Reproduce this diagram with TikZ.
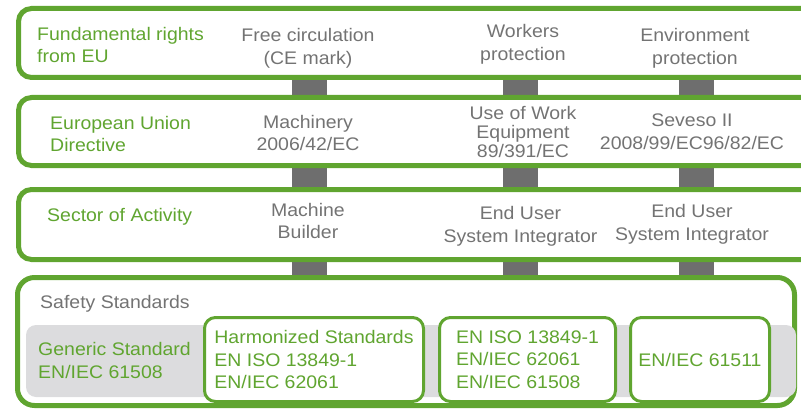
\documentclass[tikz,border=0pt]{standalone}
\usepackage{fontspec}
\setmainfont{Liberation Sans}[FakeStretch=1.07]
\usetikzlibrary{backgrounds}
\definecolor{eugreen}{RGB}{96,165,48}
\definecolor{txtgray}{RGB}{115,115,115}
\definecolor{conngray}{RGB}{110,110,110}
\definecolor{bargray}{RGB}{220,220,222}
\begin{document}
\begin{tikzpicture}[x=1pt,y=-1pt,
  rowbox/.style={draw=eugreen, line width=5pt, rounded corners=13pt, anchor=north west, inner sep=0pt, outer sep=0pt},
  inbox/.style={draw=eugreen, line width=3pt, fill=white, rounded corners=11pt, inner sep=0pt, outer sep=0pt, align=left, minimum height=84pt, text=eugreen, font=\fontsize{18.2}{22.6}\selectfont},
  lbl/.style={text=eugreen, font=\fontsize{18.2}{22.6}\selectfont, inner sep=0pt, align=left},
  val/.style={text=txtgray, font=\fontsize{18.2}{22.6}\selectfont, inner sep=0pt, align=center},
  conn/.style={draw=conngray, line width=35pt},
  barstyle/.style={fill=bargray, rounded corners=10pt, anchor=north west, inner sep=0pt, outer sep=0pt}
]
\useasboundingbox (0,0) rectangle (801,412);
\clip (0,0) rectangle (801,412);

% rows
\node[rowbox, minimum width=811.5pt, minimum height=69pt] (r1) at (18.5,8.5) {};
\node[rowbox, minimum width=811.5pt, minimum height=68pt] (r2) at (18.5,97.5) {};
\node[rowbox, minimum width=811.5pt, minimum height=70pt] (r3) at (18.5,189.5) {};
\node[rowbox, rounded corners=17pt, minimum width=777pt, minimum height=128pt] (r4) at (17.5,277.5) {};

% connector columns
\coordinate (k1) at (309.5,0);
\coordinate (k2) at (520.5,0);
\coordinate (k3) at (696,0);
\begin{scope}[on background layer]
  \draw[conn] (r1.south -| k1) -- (r2.north -| k1);
  \draw[conn] (r1.south -| k2) -- (r2.north -| k2);
  \draw[conn] (r1.south -| k3) -- (r2.north -| k3);
  \draw[conn] (r2.south -| k1) -- (r3.north -| k1);
  \draw[conn] (r2.south -| k2) -- (r3.north -| k2);
  \draw[conn] (r2.south -| k3) -- (r3.north -| k3);
  \draw[conn] (r3.south -| k1) -- (r4.north -| k1);
  \draw[conn] (r3.south -| k2) -- (r4.north -| k2);
  \draw[conn] (r3.south -| k3) -- (r4.north -| k3);
\end{scope}

% row 1
\node[lbl, anchor=west] (t11) at (37,45) {Fundamental rights\\from EU};
\node[val] (t12) at (308,48.5) {Free circulation\\(CE mark)};
\node[val] (t13) at (523,44) {Workers\\protection};
\node[val] (t14) at (695,48.4) {Environment\\protection};

% row 2
\node[lbl, anchor=west] (t21) at (50,134) {European Union\\Directive};
\node[val] (t22) at (308,133) {Machinery\\2006/42/EC};
\node[val, font=\fontsize{18.2}{19}\selectfont] (t23) at (523,132) {Use of Work\\Equipment\\89/391/EC};
\node[val] (t24) at (692,132) {Seveso II\\2008/99/EC96/82/EC};

% row 3
\node[lbl, anchor=base west] (t31) at (47,221.7) {Sector of Activity};
\node[val] (t32) at (308,221) {Machine\\Builder};
\node[val] (t33) at (520.5,226) {End User\\System Integrator};
\node[val] (t34) at (692,224.3) {End User\\System Integrator};

% row 4
\node[val, anchor=base west] (t40) at (40,308.3) {Safety Standards};
\node[barstyle, minimum width=770pt, minimum height=72pt] (bar) at (26,325) {};
\node[lbl, anchor=west] (t41) at (38,360.3) {Generic Standard\\EN/IEC 61508};
\node[inbox, minimum width=219pt] (h1) at (314,359.5) {Harmonized Standards\\EN ISO 13849-1\\EN/IEC 62061};
\node[inbox, minimum width=176pt] (h2) at (527.5,359.5) {EN ISO 13849-1\\EN/IEC 62061\\EN/IEC 61508};
\node[inbox, minimum width=139pt] (h3) at (700,359.5) {EN/IEC 61511};
\end{tikzpicture}
\end{document}
